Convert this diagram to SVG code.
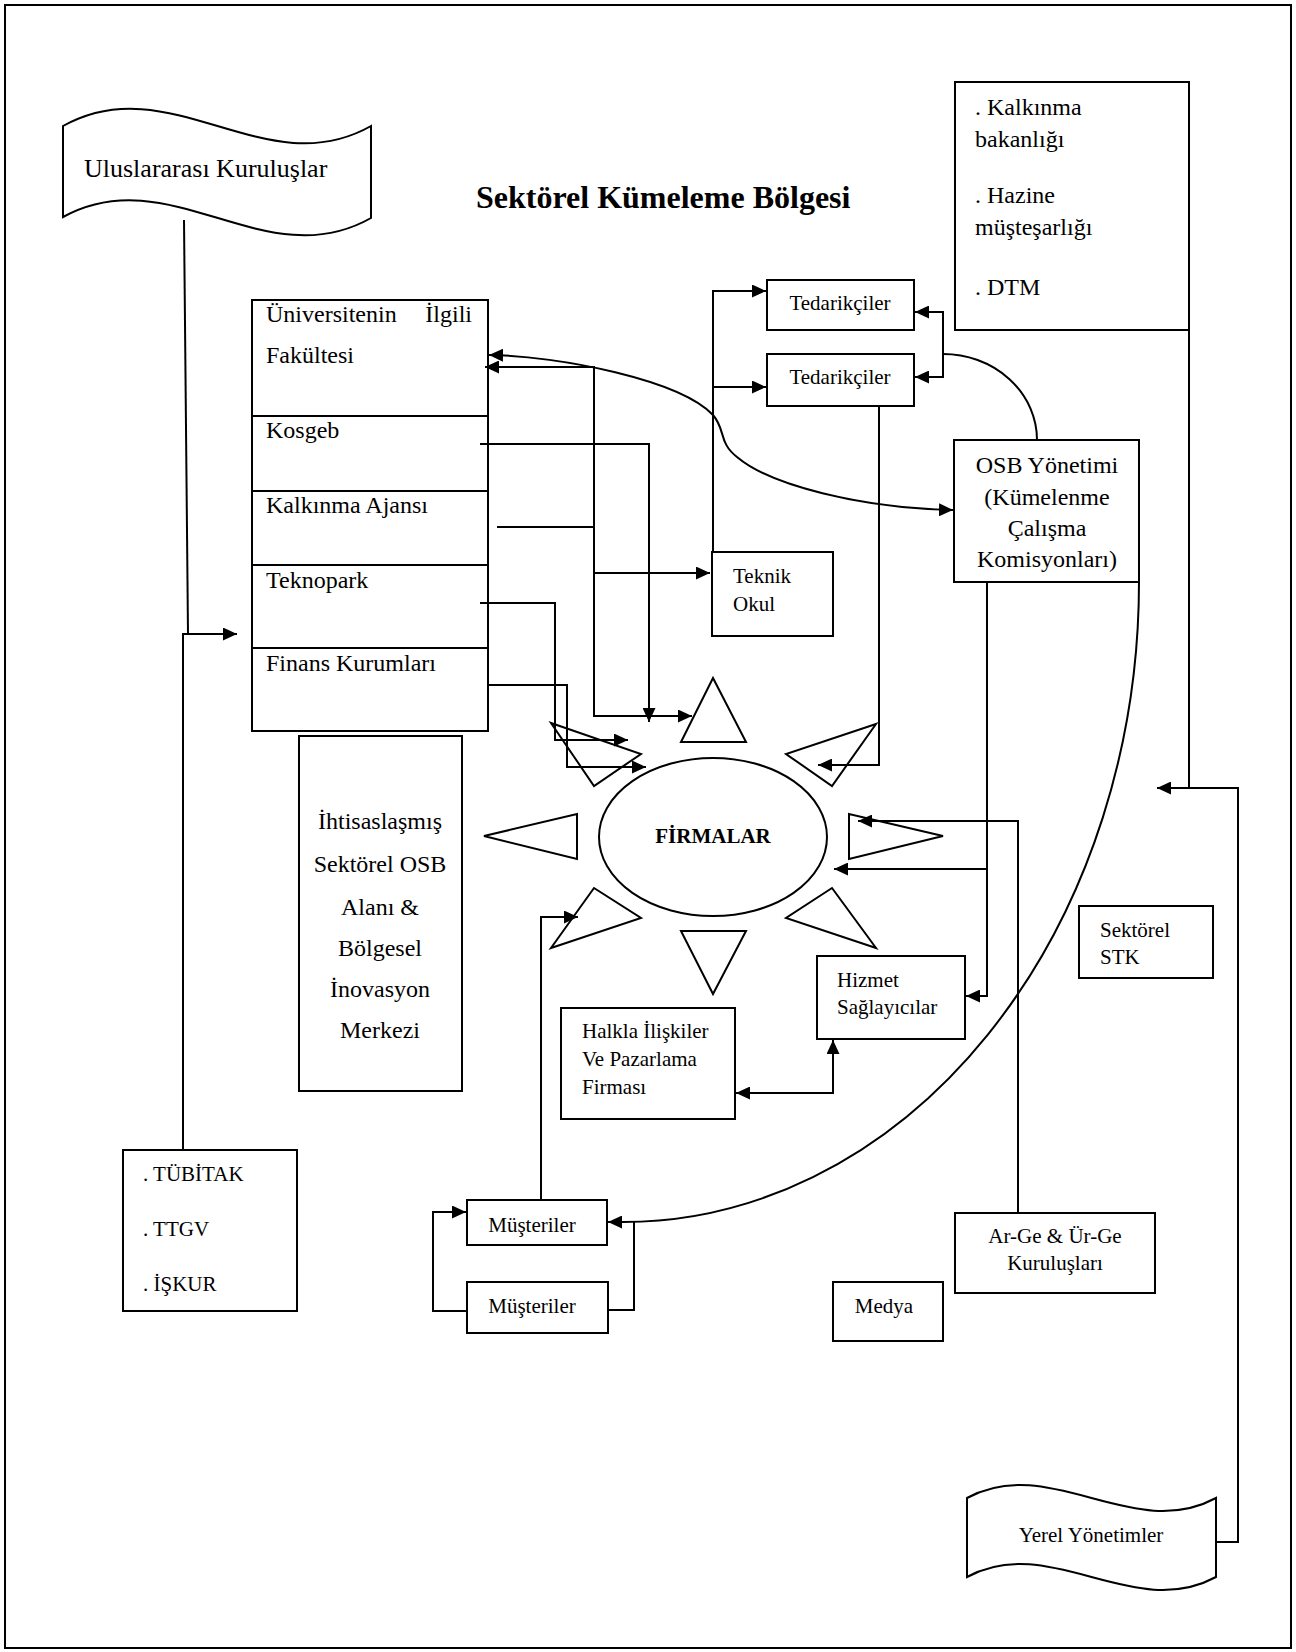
<svg xmlns="http://www.w3.org/2000/svg" width="1296" height="1652" viewBox="0 0 1296 1652">
  <style>
    .box { fill: none; stroke: #000; stroke-width: 2; }
    .ln { fill: none; stroke: #000; stroke-width: 2; }
    .tri { fill: none; stroke: #000; stroke-width: 2; stroke-linejoin: miter; }
    .tx { font-family: "Liberation Serif", "Times New Roman", serif; font-size: 21px; fill: #000; }
    .tm { font-family: "Liberation Serif", "Times New Roman", serif; font-size: 24px; fill: #000; }
    .tl { font-family: "Liberation Serif", "Times New Roman", serif; font-size: 26px; fill: #000; }
    .tb { font-family: "Liberation Serif", "Times New Roman", serif; font-weight: bold; fill: #000; }
    .mid { text-anchor: middle; }
  </style>
  <defs>
    <marker id="ah" markerUnits="userSpaceOnUse" markerWidth="15" markerHeight="13" refX="14" refY="6.5" orient="auto-start-reverse">
      <path d="M0,0 L14,6.5 L0,13 z" fill="#000"/>
    </marker>
  </defs>

  <rect width="1296" height="1652" fill="#fff"/>
  <rect x="5" y="5" width="1286" height="1643" class="box"/>

  <text class="tb" x="476" y="208" font-size="32" style="font-size:32px">Sektörel Kümeleme Bölgesi</text>

  <!-- connectors -->
  <g id="connectors">
    <path class="ln" d="M184,220 L188,634"/>
    <path class="ln" d="M183,1150 V634 H237" marker-end="url(#ah)"/>
    <path class="ln" d="M489,355 C560,356 680,380 713,415 C726,430 718,442 737,457 C770,485 860,508 953,510" marker-start="url(#ah)" marker-end="url(#ah)"/>
    <path class="ln" d="M485,367 H594 V716 H692" marker-start="url(#ah)" marker-end="url(#ah)"/>
    <path class="ln" d="M497,527 H594 V573 H710" marker-end="url(#ah)"/>
    <path class="ln" d="M480,444 H649 V722" marker-end="url(#ah)"/>
    <path class="ln" d="M480,603 H555 V740 H628" marker-end="url(#ah)"/>
    <path class="ln" d="M489,685 H567 V767 H646" marker-end="url(#ah)"/>
    <path class="ln" d="M713,552 V291 H766" marker-end="url(#ah)"/>
    <path class="ln" d="M713,387 H766" marker-end="url(#ah)"/>
    <path class="ln" d="M915,312 H943 V377 H915" marker-start="url(#ah)" marker-end="url(#ah)"/>
    <path class="ln" d="M943,354 A94,86 0 0 1 1037,440"/>
    <path class="ln" d="M879,407 V765 H818" marker-end="url(#ah)"/>
    <path class="ln" d="M987,582 V996 H966" marker-end="url(#ah)"/>
    <path class="ln" d="M987,869 H834" marker-end="url(#ah)"/>
    <path class="ln" d="M1139,582 A516,640 0 0 1 623,1222 L608,1222" marker-end="url(#ah)"/>
    <path class="ln" d="M607,1310 H634 V1222"/>
    <path class="ln" d="M467,1311 H433 V1212 H466" marker-end="url(#ah)"/>
    <path class="ln" d="M541,1200 V917 H578" marker-end="url(#ah)"/>
    <path class="ln" d="M736,1093 H833 V1040" marker-start="url(#ah)" marker-end="url(#ah)"/>
    <path class="ln" d="M1018,1213 V821 H858" marker-end="url(#ah)"/>
    <path class="ln" d="M1189,330 V788"/>
    <path class="ln" d="M1216,1542 H1238 V788 H1157" marker-end="url(#ah)"/>
  </g>

  <!-- international organisations banner -->
  <g id="uluslararasi">
    <path class="box" d="M63,126 C170,66 265,186 371,126 L371,218 C265,278 170,158 63,217 Z"/>
    <text class="tl" x="84" y="177">Uluslararası Kuruluşlar</text>
  </g>

  <!-- university / support stack -->
  <g id="destek">
    <rect x="252" y="300" width="236" height="431" class="box"/>
    <path class="ln" d="M252,416 H488 M252,491 H488 M252,565 H488 M252,648 H488"/>
    <text class="tm" x="266" y="322">Üniversitenin</text>
    <text class="tm" x="472" y="322" text-anchor="end">İlgili</text>
    <text class="tm" x="266" y="363">Fakültesi</text>
    <text class="tm" x="266" y="438">Kosgeb</text>
    <text class="tm" x="266" y="513">Kalkınma Ajansı</text>
    <text class="tm" x="266" y="588">Teknopark</text>
    <text class="tm" x="266" y="671">Finans Kurumları</text>
  </g>

  <g id="bakanlik">
    <rect x="955" y="82" width="234" height="248" class="box"/>
    <text class="tm" x="975" y="115">. Kalkınma</text>
    <text class="tm" x="975" y="147">bakanlığı</text>
    <text class="tm" x="975" y="203">. Hazine</text>
    <text class="tm" x="975" y="235">müşteşarlığı</text>
    <text class="tm" x="975" y="295">. DTM</text>
  </g>

  <g id="tedarikci1">
    <rect x="767" y="280" width="147" height="50" class="box"/>
    <text class="tx mid" x="840" y="310">Tedarikçiler</text>
  </g>
  <g id="tedarikci2">
    <rect x="767" y="354" width="147" height="52" class="box"/>
    <text class="tx mid" x="840" y="384">Tedarikçiler</text>
  </g>

  <g id="teknik-okul">
    <rect x="712" y="552" width="121" height="84" class="box"/>
    <text class="tx" x="733" y="583">Teknik</text>
    <text class="tx" x="733" y="611">Okul</text>
  </g>

  <g id="osb">
    <rect x="954" y="440" width="185" height="142" class="box"/>
    <text class="tm mid" x="1047" y="473">OSB Yönetimi</text>
    <text class="tm mid" x="1047" y="505">(Kümelenme</text>
    <text class="tm mid" x="1047" y="536">Çalışma</text>
    <text class="tm mid" x="1047" y="567">Komisyonları)</text>
  </g>

  <g id="ihtisas">
    <rect x="299" y="736" width="163" height="355" class="box"/>
    <text class="tm mid" x="380" y="829">İhtisaslaşmış</text>
    <text class="tm mid" x="380" y="872">Sektörel OSB</text>
    <text class="tm mid" x="380" y="915">Alanı &amp;</text>
    <text class="tm mid" x="380" y="956">Bölgesel</text>
    <text class="tm mid" x="380" y="997">İnovasyon</text>
    <text class="tm mid" x="380" y="1038">Merkezi</text>
  </g>

  <!-- firms with surrounding arrows -->
  <g id="firmalar">
    <ellipse cx="713" cy="837" rx="114" ry="79" class="box"/>
    <text class="tb mid" x="713" y="843" style="font-size:21px">FİRMALAR</text>
    <polygon class="tri" points="713,678 681,742 746,742"/>
    <polygon class="tri" points="681,931 746,931 713,994"/>
    <polygon class="tri" points="484,836 577,814 577,859"/>
    <polygon class="tri" points="943,836 849,814 849,859"/>
    <polygon class="tri" points="551,723 641,754 594,786"/>
    <polygon class="tri" points="876,724 786,754 832,786"/>
    <polygon class="tri" points="594,888 641,918 551,948"/>
    <polygon class="tri" points="832,888 876,948 786,918"/>
  </g>

  <g id="hizmet">
    <rect x="817" y="956" width="148" height="83" class="box"/>
    <text class="tx" x="837" y="987">Hizmet</text>
    <text class="tx" x="837" y="1014">Sağlayıcılar</text>
  </g>

  <g id="halkla">
    <rect x="561" y="1008" width="174" height="111" class="box"/>
    <text class="tx" x="582" y="1038">Halkla İlişkiler</text>
    <text class="tx" x="582" y="1066">Ve Pazarlama</text>
    <text class="tx" x="582" y="1094">Firması</text>
  </g>

  <g id="stk">
    <rect x="1079" y="906" width="134" height="72" class="box"/>
    <text class="tx" x="1100" y="937">Sektörel</text>
    <text class="tx" x="1100" y="964">STK</text>
  </g>

  <g id="tubitak">
    <rect x="123" y="1150" width="174" height="161" class="box"/>
    <text class="tx" x="143" y="1181">. TÜBİTAK</text>
    <text class="tx" x="143" y="1236">. TTGV</text>
    <text class="tx" x="143" y="1291">. İŞKUR</text>
  </g>

  <g id="musteri1">
    <rect x="467" y="1200" width="140" height="45" class="box"/>
    <text class="tx mid" x="532" y="1232">Müşteriler</text>
  </g>
  <g id="musteri2">
    <rect x="467" y="1282" width="141" height="51" class="box"/>
    <text class="tx mid" x="532" y="1313">Müşteriler</text>
  </g>

  <g id="arge">
    <rect x="955" y="1213" width="200" height="80" class="box"/>
    <text class="tx mid" x="1055" y="1243">Ar-Ge &amp; Ür-Ge</text>
    <text class="tx mid" x="1055" y="1270">Kuruluşları</text>
  </g>

  <g id="medya">
    <rect x="833" y="1282" width="110" height="59" class="box"/>
    <text class="tx mid" x="884" y="1313">Medya</text>
  </g>

  <g id="yerel">
    <path class="box" d="M967,1498 C1050,1453 1133,1543 1216,1498 L1216,1577 C1133,1622 1050,1532 967,1577 Z"/>
    <text class="tx mid" x="1091" y="1542">Yerel Yönetimler</text>
  </g>
</svg>
